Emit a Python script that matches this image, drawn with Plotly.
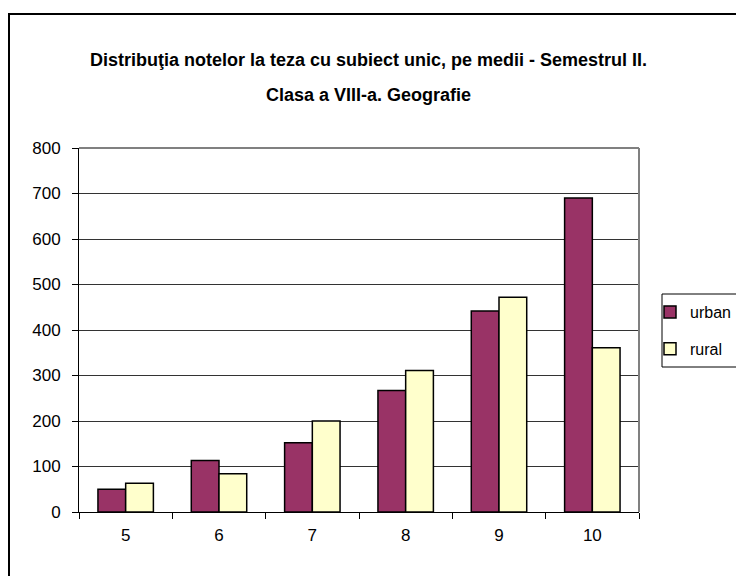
import plotly.graph_objects as go

categories = ["5", "6", "7", "8", "9", "10"]
urban = [50, 113, 152, 267, 442, 690]
rural = [63, 84, 200, 311, 472, 361]
series_names = ["urban", "rural"]
y_ticks = [0, 100, 200, 300, 400, 500, 600, 700, 800]
title_line1 = "Distribuţia notelor la teza cu subiect unic, pe medii - Semestrul II."
title_line2 = "Clasa a VIII-a. Geografie"

OFF = 8  # page body margin
W, H = 744 - OFF, 576 - OFF
L, R, T, B = 79 - OFF, 639 - OFF, 148 - OFF, 512 - OFF  # plot area in figure pixels


def px(x):
    return (x - OFF - L) / (R - L)


def py(y):
    return (B - (y - OFF)) / (B - T)


fig = go.Figure()
fig.add_trace(go.Bar(x=categories, y=urban, name=series_names[0], legendgroup="a",
                     marker=dict(color="#993366", line=dict(color="black", width=1.5))))
fig.add_trace(go.Bar(x=categories, y=rural, name=series_names[1], legendgroup="b",
                     marker=dict(color="#FFFFCC", line=dict(color="black", width=1.5))))

fig.update_layout(
    width=W, height=H,
    margin=dict(l=L, r=W - R, t=T, b=H - B, pad=0, autoexpand=False),
    paper_bgcolor="white", plot_bgcolor="white",
    barmode="group", bargap=0.406, bargroupgap=0,
    font=dict(family="Liberation Sans, Arial, sans-serif", size=17, color="black"),
    legend=dict(x=px(650), y=py(295), xanchor="left", yanchor="top",
                bgcolor="rgba(0,0,0,0)", borderwidth=0, itemwidth=30,
                tracegroupgap=13, traceorder="grouped",
                font=dict(size=16)),
    showlegend=True,
)
fig.update_xaxes(
    type="category", showline=True, linecolor="black", linewidth=1,
    ticks="outside", tickson="boundaries", ticklen=6, tickcolor="black",
    showgrid=False, ticklabelstandoff=8, fixedrange=True,
)
fig.update_yaxes(
    range=[0, 800], tickvals=y_ticks, showline=True, linecolor="black", linewidth=1,
    ticks="outside", ticklen=6, tickcolor="black",
    showgrid=True, gridcolor="#333333", gridwidth=1, zeroline=False,
    ticklabelstandoff=8, fixedrange=True,
)

shapes = [
    # plot area top & right border (gray)
    dict(type="line", xref="paper", yref="paper", x0=0, x1=1, y0=1, y1=1,
         line=dict(color="#808080", width=2)),
    dict(type="line", xref="paper", yref="paper", x0=1, x1=1, y0=0, y1=1,
         line=dict(color="#808080", width=2)),
    # outer chart frame
    dict(type="rect", xref="paper", yref="paper", x0=px(9), x1=px(790), y0=py(620), y1=py(14),
         line=dict(color="black", width=2), layer="below"),
    # legend frame
    dict(type="rect", xref="paper", yref="paper", x0=px(662), x1=px(790), y0=py(367), y1=py(294),
         line=dict(color="black", width=1)),
]
fig.update_layout(shapes=shapes)

fig.add_annotation(text="<b>" + title_line1 + "</b>", xref="paper", yref="paper",
                   x=px(368), y=py(60), showarrow=False, xanchor="center", yanchor="middle",
                   font=dict(size=18))
fig.add_annotation(text="<b>" + title_line2 + "</b>", xref="paper", yref="paper",
                   x=px(368), y=py(95), showarrow=False, xanchor="center", yanchor="middle",
                   font=dict(size=18))

fig.write_html("out.html")
